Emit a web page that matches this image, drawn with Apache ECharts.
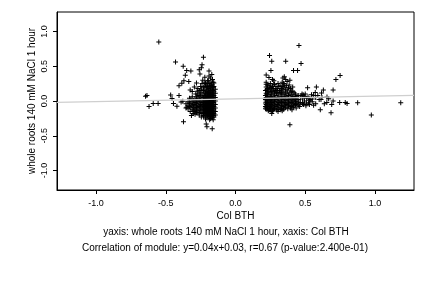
<!DOCTYPE html>
<html>
<head>
<meta charset="utf-8">
<script src="https://cdn.jsdelivr.net/npm/echarts@6/dist/echarts.min.js"></script>
<style>html,body{margin:0;padding:0;background:#fff}#c{width:432px;height:288px}</style>
</head>
<body>
<div id="c"></div>
<script>
// tick labels
const xTicks = [-1, -0.5, 0, 0.5, 1];
const yTicks = [-1, -0.5, 0, 0.5, 1];
const xTitle = 'Col BTH';
const yTitle = 'whole roots 140 mM NaCl 1 hour';
const caption1 = 'yaxis: whole roots 140 mM NaCl 1 hour, xaxis: Col BTH';
const caption2 = 'Correlation of module: y=0.04x+0.03, r=0.67 (p-value:2.400e-01)';
const slope = 0.04;
const intercept = 0.03;

// left group (negative Col BTH)
const leftOutliers = [[-0.55,0.85],[-0.43,0.56],[-0.375,0.50],[-0.35,0.44],[-0.32,0.43],[-0.23,0.63],[-0.26,0.45],[-0.24,0.52],[-0.245,0.48],[-0.255,0.39],[-0.19,0.43],[-0.165,0.31],[-0.36,0.37],[-0.335,0.28],[-0.37,0.29],[-0.385,0.255],[-0.295,0.20],[-0.325,0.16],[-0.31,0.135],[-0.405,0.22],[-0.28,0.26],[-0.22,0.34],[-0.20,0.29],[-0.21,0.23],[-0.635,0.08],[-0.645,0.07],[-0.62,-0.08],[-0.59,-0.035],[-0.555,-0.035],[-0.465,0.085],[-0.455,0.035],[-0.445,-0.035],[-0.405,0.08],[-0.42,-0.075],[-0.39,-0.015],[-0.378,-0.005],[-0.373,-0.30],[-0.35,-0.09],[-0.316,-0.21],[-0.29,-0.15],[-0.28,-0.17],[-0.26,-0.20],[-0.21,-0.33],[-0.205,-0.37],[-0.167,-0.40],[-0.23,-0.22],[-0.18,-0.22],[-0.17,0.38],[-0.18,0.33],[-0.16,0.27],[-0.19,0.36],[-0.22,0.27],[-0.24,0.25],[-0.25,0.21],[-0.27,0.18],[-0.19,0.25],[-0.17,0.22],[-0.23,0.19],[-0.26,0.15]];
const leftExtra = [[-0.155,0.26],[-0.165,0.20],[-0.175,0.27],[-0.185,0.22],[-0.195,0.29],[-0.205,0.19],[-0.215,0.25],[-0.225,0.21],[-0.235,0.30],[-0.245,0.17],[-0.275,0.14],[-0.285,0.10],[-0.31,0.06],[-0.33,0.04],[-0.305,-0.18],[-0.325,-0.15],[-0.245,-0.23],[-0.185,-0.27],[-0.16,-0.27],[-0.215,-0.26]];
const leftCore = [
[-0.145,0.17],[-0.145,0.11],[-0.145,0.05],[-0.145,0.00],[-0.145,-0.05],[-0.145,-0.10],[-0.145,-0.15],[-0.145,-0.20],
[-0.155,0.21],[-0.155,0.14],[-0.155,0.08],[-0.155,0.02],[-0.155,-0.03],[-0.155,-0.08],[-0.155,-0.13],[-0.155,-0.18],[-0.155,-0.23],
[-0.160,0.19],[-0.160,0.12],[-0.160,0.06],[-0.160,0.01],[-0.160,-0.02],[-0.160,-0.07],[-0.160,-0.11],[-0.160,-0.16],[-0.160,-0.21],
[-0.165,0.15],[-0.165,0.09],[-0.165,0.04],[-0.165,-0.01],[-0.165,-0.05],[-0.165,-0.09],[-0.165,-0.14],[-0.165,-0.19],[-0.165,-0.24],
[-0.170,0.24],[-0.170,0.17],[-0.170,0.10],[-0.170,0.03],[-0.170,-0.03],[-0.170,-0.06],[-0.170,-0.12],[-0.170,-0.17],[-0.170,-0.22],
[-0.175,0.13],[-0.175,0.07],[-0.175,0.02],[-0.175,-0.04],[-0.175,-0.08],[-0.175,-0.13],[-0.175,-0.20],
[-0.180,0.20],[-0.180,0.15],[-0.180,0.09],[-0.180,0.05],[-0.180,0.00],[-0.180,-0.05],[-0.180,-0.10],[-0.180,-0.15],[-0.180,-0.19],[-0.180,-0.25],
[-0.185,0.11],[-0.185,0.06],[-0.185,0.01],[-0.185,-0.03],[-0.185,-0.07],[-0.185,-0.12],[-0.185,-0.17],[-0.185,-0.21],
[-0.190,0.18],[-0.190,0.13],[-0.190,0.08],[-0.190,0.03],[-0.190,-0.02],[-0.190,-0.06],[-0.190,-0.11],[-0.190,-0.14],[-0.190,-0.18],[-0.190,-0.23],
[-0.195,0.16],[-0.195,0.10],[-0.195,0.04],[-0.195,-0.01],[-0.195,-0.04],[-0.195,-0.09],[-0.195,-0.16],[-0.195,-0.20],
[-0.200,0.21],[-0.200,0.12],[-0.200,0.07],[-0.200,0.02],[-0.200,-0.03],[-0.200,-0.08],[-0.200,-0.12],[-0.200,-0.17],[-0.200,-0.22],
[-0.205,0.14],[-0.205,0.05],[-0.205,0.00],[-0.205,-0.06],[-0.205,-0.10],[-0.205,-0.15],[-0.205,-0.19],
[-0.210,0.17],[-0.210,0.09],[-0.210,0.03],[-0.210,-0.02],[-0.210,-0.07],[-0.210,-0.13],[-0.210,-0.18],[-0.210,-0.24],
[-0.215,0.11],[-0.215,0.04],[-0.215,-0.01],[-0.215,-0.05],[-0.215,-0.11],[-0.215,-0.16],
[-0.220,0.13],[-0.220,0.06],[-0.220,0.01],[-0.220,-0.04],[-0.220,-0.09],[-0.220,-0.14],[-0.220,-0.20],
[-0.225,0.08],[-0.225,0.02],[-0.225,-0.03],[-0.225,-0.08],[-0.225,-0.12],[-0.225,-0.17],
[-0.230,0.15],[-0.230,0.05],[-0.230,-0.01],[-0.230,-0.06],[-0.230,-0.11],[-0.230,-0.16],[-0.230,-0.21],
[-0.240,0.10],[-0.240,0.03],[-0.240,-0.02],[-0.240,-0.07],[-0.240,-0.12],[-0.240,-0.18],
[-0.250,0.12],[-0.250,0.06],[-0.250,0.00],[-0.250,-0.05],[-0.250,-0.09],[-0.250,-0.14],
[-0.260,0.08],[-0.260,0.02],[-0.260,-0.03],[-0.260,-0.08],[-0.260,-0.13],[-0.260,-0.17],
[-0.270,0.10],[-0.270,0.04],[-0.270,-0.01],[-0.270,-0.06],[-0.270,-0.10],[-0.270,-0.16],
[-0.280,0.06],[-0.280,0.00],[-0.280,-0.04],[-0.280,-0.09],[-0.280,-0.13],
[-0.290,0.03],[-0.290,-0.02],[-0.290,-0.07],[-0.290,-0.11],[-0.290,-0.19],
[-0.300,0.01],[-0.300,-0.05],[-0.300,-0.09],[-0.300,-0.14],
[-0.310,-0.01],[-0.310,-0.06],[-0.310,-0.12],
[-0.320,0.02],[-0.320,-0.04],[-0.320,-0.09],
[-0.330,-0.03],[-0.330,-0.08],
[-0.340,-0.01],[-0.340,-0.06],[-0.340,-0.11],
[-0.355,-0.04],[-0.355,-0.10]];

// right group (positive Col BTH)
const rightOutliers = [[0.244,0.655],[0.26,0.57],[0.36,0.57],[0.254,0.44],[0.455,0.80],[0.47,0.54],[0.416,0.44],[0.445,0.44],[0.22,0.375],[0.24,0.337],[0.265,0.31],[0.275,0.29],[0.35,0.35],[0.34,0.33],[0.36,0.31],[0.37,0.28],[0.39,0.30],[0.335,0.27],[0.75,0.366],[0.72,0.31],[0.70,0.16],[0.63,0.16],[0.58,0.20],[0.517,0.19],[0.572,0.124],[0.617,0.115],[0.50,0.10],[0.477,0.10],[0.656,0.058],[0.668,0.033],[0.613,0.02],[0.747,-0.02],[0.787,-0.02],[0.80,-0.035],[0.876,-0.025],[1.185,-0.025],[0.974,-0.20],[0.608,-0.125],[0.685,-0.17],[0.637,-0.04],[0.69,-0.05],[0.70,0.0],[0.49,0.07],[0.536,0.02],[0.56,0.08],[0.524,-0.03],[0.488,-0.05],[0.39,-0.34],[0.405,-0.125],[0.26,-0.18],[0.325,-0.125],[0.46,-0.08],[0.22,0.27],[0.23,0.23]];
const rightExtra = [[0.22,0.24],[0.23,0.18],[0.235,0.14],[0.245,0.19],[0.25,0.25],[0.26,0.14],[0.265,0.21],[0.27,0.18],[0.275,0.24],[0.285,0.15],[0.29,0.21],[0.295,0.12],[0.30,0.18],[0.305,0.25],[0.315,0.15],[0.32,0.22],[0.325,0.12],[0.335,0.21],[0.34,0.17],[0.345,0.25],[0.355,0.19],[0.36,0.13],[0.365,0.22],[0.375,0.16],[0.385,0.23],[0.395,0.18],[0.40,0.14],[0.41,0.20],[0.42,0.12],[0.235,-0.14],[0.245,-0.10],[0.265,-0.14],[0.275,-0.12],[0.295,-0.13],[0.305,-0.15],[0.335,-0.14],[0.345,-0.12],[0.355,-0.10],[0.375,-0.11],[0.395,-0.10],[0.415,-0.09],[0.435,-0.10],[0.455,-0.03],[0.47,0.08],[0.485,0.09],[0.505,-0.07],[0.52,0.06],[0.545,0.09],[0.56,-0.06],[0.59,0.08],[0.62,0.05],[0.655,-0.02]];
const rightCore = [
[0.215,0.15],[0.215,0.08],[0.215,0.02],[0.215,-0.03],[0.215,-0.08],[0.215,-0.11],
[0.220,0.20],[0.220,0.11],[0.220,0.05],[0.220,0.00],[0.220,-0.05],[0.220,-0.09],
[0.225,0.17],[0.225,0.09],[0.225,0.03],[0.225,-0.02],[0.225,-0.06],[0.225,-0.12],
[0.230,0.13],[0.230,0.06],[0.230,0.01],[0.230,-0.04],[0.230,-0.10],
[0.240,0.22],[0.240,0.10],[0.240,0.04],[0.240,-0.01],[0.240,-0.06],[0.240,-0.13],
[0.250,0.16],[0.250,0.07],[0.250,0.02],[0.250,-0.03],[0.250,-0.08],[0.250,-0.11],
[0.255,0.12],[0.255,0.05],[0.255,0.00],[0.255,-0.05],[0.255,-0.10],[0.255,-0.15],
[0.260,0.19],[0.260,0.09],[0.260,0.03],[0.260,-0.02],[0.260,-0.07],
[0.270,0.14],[0.270,0.06],[0.270,0.01],[0.270,-0.04],[0.270,-0.09],[0.270,-0.13],
[0.280,0.24],[0.280,0.11],[0.280,0.04],[0.280,-0.01],[0.280,-0.06],[0.280,-0.11],
[0.290,0.17],[0.290,0.08],[0.290,0.02],[0.290,-0.03],[0.290,-0.08],
[0.300,0.13],[0.300,0.05],[0.300,0.00],[0.300,-0.05],[0.300,-0.10],
[0.310,0.21],[0.310,0.10],[0.310,0.03],[0.310,-0.02],[0.310,-0.07],[0.310,-0.12],
[0.320,0.15],[0.320,0.07],[0.320,0.01],[0.320,-0.04],[0.320,-0.09],
[0.330,0.18],[0.330,0.11],[0.330,0.04],[0.330,-0.01],[0.330,-0.06],[0.330,-0.11],
[0.340,0.13],[0.340,0.06],[0.340,0.02],[0.340,-0.03],[0.340,-0.08],
[0.350,0.23],[0.350,0.09],[0.350,0.03],[0.350,-0.02],[0.350,-0.07],
[0.360,0.16],[0.360,0.07],[0.360,0.01],[0.360,-0.04],[0.360,-0.09],
[0.370,0.11],[0.370,0.05],[0.370,0.00],[0.370,-0.05],
[0.380,0.19],[0.380,0.08],[0.380,0.02],[0.380,-0.03],[0.380,-0.07],
[0.390,0.12],[0.390,0.04],[0.390,-0.01],[0.390,-0.06],
[0.400,0.09],[0.400,0.03],[0.400,-0.02],[0.400,-0.08],
[0.410,0.14],[0.410,0.06],[0.410,0.01],[0.410,-0.04],
[0.420,0.07],[0.420,0.02],[0.420,-0.03],[0.420,-0.07],
[0.430,0.10],[0.430,0.04],[0.430,-0.01],[0.430,-0.05],
[0.440,0.06],[0.440,0.00],[0.440,-0.04],
[0.450,0.08],[0.450,0.02],[0.450,-0.06],
[0.465,0.05],[0.465,-0.02],
[0.480,0.03],[0.480,-0.04],
[0.495,0.06],[0.495,0.00],
[0.510,0.04],[0.510,-0.03],
[0.530,0.01],[0.530,-0.05],
[0.550,0.03],[0.550,-0.01],
[0.575,0.05],[0.575,-0.04],
[0.600,0.02]];

const xMin = -1.28, xMax = 1.28, yMin = -1.28, yMax = 1.28;
const FONT = 'Liberation Sans, Arial, Helvetica, sans-serif';
const plus = 'path://M2,0h1v2h2v1h-2v2h-1v-2h-2v-1h2z';

const chart = echarts.init(document.getElementById('c'), null, {renderer: 'canvas'});
const fmt = v => Number(v).toFixed(1);
chart.setOption({
  animation: false,
  backgroundColor: '#fff',
  grid: {left: 57, right: 18, top: 12, bottom: 98, show: true, borderColor: '#000', borderWidth: 1, containLabel: false},
  xAxis: {
    type: 'value', min: xMin, max: xMax,
    name: xTitle, nameLocation: 'middle', nameGap: 21, nameMoveOverlap: false,
    nameTextStyle: {fontFamily: FONT, fontSize: 10, color: '#000'},
    axisLine: {show: true, onZero: false, lineStyle: {color: '#000', width: 1}},
    axisTick: {show: true, length: 4, customValues: xTicks, lineStyle: {color: '#000'}},
    axisLabel: {customValues: xTicks, formatter: fmt, fontFamily: FONT, fontSize: 9, color: '#000', margin: 9},
    splitLine: {show: false}
  },
  yAxis: {
    type: 'value', min: yMin, max: yMax,
    name: yTitle, nameLocation: 'middle', nameGap: 20, nameMoveOverlap: false,
    nameTextStyle: {fontFamily: FONT, fontSize: 10, color: '#000'},
    axisLine: {show: true, onZero: false, lineStyle: {color: '#000', width: 1}},
    axisTick: {show: true, length: 4, customValues: yTicks, lineStyle: {color: '#000'}},
    axisLabel: {customValues: yTicks, formatter: fmt, rotate: 90, fontFamily: FONT, fontSize: 9, color: '#000', margin: 8},
    splitLine: {show: false}
  },
  graphic: [
    {type: 'text', x: 226, y: 232, style: {text: caption1, textAlign: 'center', textVerticalAlign: 'middle', font: '10px ' + FONT, fill: '#000'}},
    {type: 'text', x: 225, y: 248, style: {text: caption2, textAlign: 'center', textVerticalAlign: 'middle', font: '10px ' + FONT, fill: '#000'}}
  ],
  series: [
    {
      type: 'scatter', symbol: plus, symbolSize: 5, z: 2,
      itemStyle: {color: '#000', opacity: 1},
      data: leftOutliers.concat(leftExtra, leftCore, rightOutliers, rightExtra, rightCore)
    },
    {
      type: 'line', symbol: 'none', z: 3, silent: true,
      lineStyle: {color: '#cfcfcf', width: 1.2},
      data: [[xMin, slope * xMin + intercept], [xMax, slope * xMax + intercept]]
    }
  ]
});
</script>
</body>
</html>
